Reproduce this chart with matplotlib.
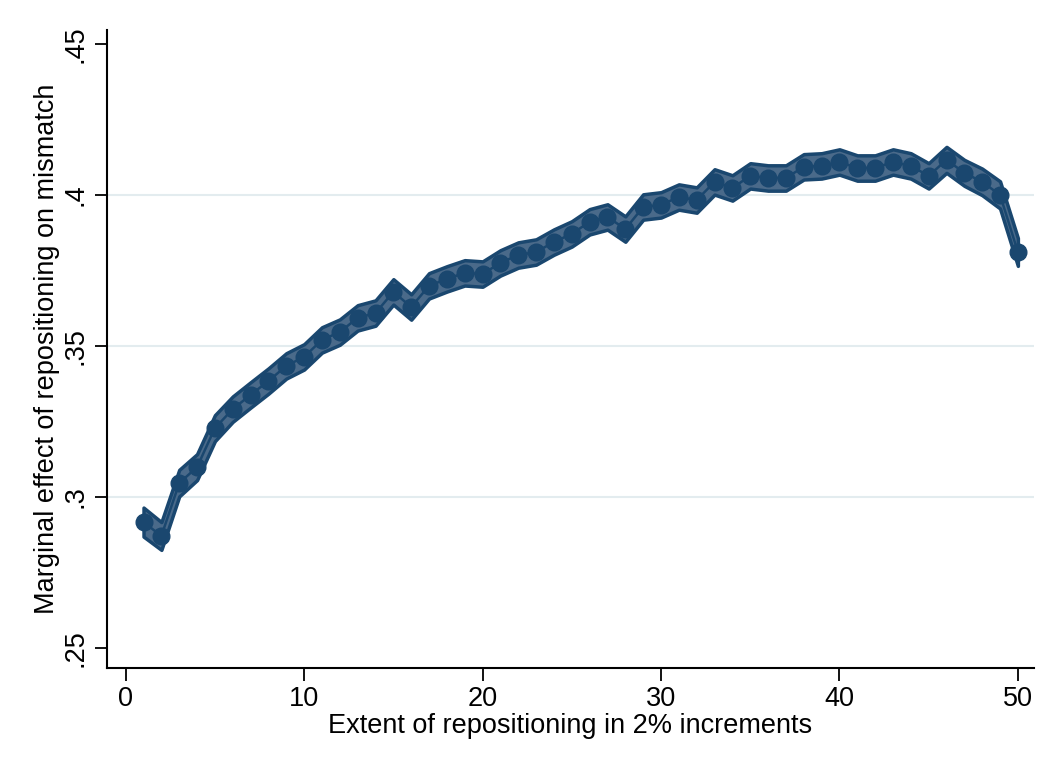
import numpy as np
import matplotlib
matplotlib.use("Agg")
import matplotlib.pyplot as plt

# repositioning extent (2% steps) and estimated marginal effects
extent = list(range(1, 51))
margin = [
    0.2917, 0.2871, 0.3046, 0.3099, 0.3228, 0.3291, 0.3338, 0.3384, 0.3434, 0.3464,
    0.3520, 0.3546, 0.3593, 0.3609, 0.3679, 0.3629, 0.3699, 0.3722, 0.3742, 0.3738,
    0.3775, 0.3801, 0.3811, 0.3844, 0.3871, 0.3911, 0.3927, 0.3887, 0.3960, 0.3967,
    0.3993, 0.3983, 0.4043, 0.4023, 0.4063, 0.4056, 0.4056, 0.4093, 0.4096, 0.4109,
    0.4089, 0.4089, 0.4109, 0.4096, 0.4063, 0.4116, 0.4073, 0.4043, 0.4000, 0.3811,
]
# half width of the 95% confidence interval
ci_half = [
    0.0048, 0.0046, 0.0044, 0.0043, 0.0043, 0.0042, 0.0042, 0.0042, 0.0042, 0.0042,
    0.0042, 0.0042, 0.0042, 0.0042, 0.0042, 0.0042, 0.0042, 0.0042, 0.0042, 0.0042,
    0.0042, 0.0042, 0.0042, 0.0042, 0.0042, 0.0042, 0.0042, 0.0042, 0.0042, 0.0042,
    0.0042, 0.0042, 0.0042, 0.0042, 0.0042, 0.0042, 0.0042, 0.0042, 0.0042, 0.0042,
    0.0042, 0.0042, 0.0042, 0.0042, 0.0042, 0.0043, 0.0043, 0.0044, 0.0045, 0.0046,
]
yticks = [0.25, 0.30, 0.35, 0.40, 0.45]
ytick_labels = [".25", ".3", ".35", ".4", ".45"]
xticks = [0, 10, 20, 30, 40, 50]

navy = "#1A476F"
band = "#4A6A8A"

plt.rcParams["font.family"] = ["Liberation Sans", "DejaVu Sans"]

fig = plt.figure(figsize=(10.61, 7.68), dpi=100)
ax = fig.add_axes([0.1008, 0.1302, 0.8737, 0.8308])

x = np.array(extent)
y = np.array(margin)
h = np.array(ci_half)

ax.fill_between(x, y - h, y + h, facecolor=band, edgecolor=navy,
                linewidth=2.5, zorder=2)
ax.plot(x, y, color=navy, linewidth=1.8, marker="o", markersize=12,
        markerfacecolor=navy, markeredgecolor=navy, zorder=3)

# light grid only on the interior y ticks
for g in yticks[1:-1]:
    ax.axhline(g, color="#E3ECEF", linewidth=1.5, zorder=1)

ax.set_xlim(-1.05, 50.9)
ax.set_ylim(0.2434, 0.4546)
ax.set_xticks(xticks)
ax.set_xticklabels([str(t) for t in xticks], fontsize=19.5)
ax.set_yticks(yticks)
ax.set_yticklabels(ytick_labels, fontsize=19.5, rotation=90, va="center")

ax.tick_params(axis="both", direction="out", length=9, width=1.3,
               color="black", pad=4)
for side in ("top", "right"):
    ax.spines[side].set_visible(False)
for side in ("left", "bottom"):
    ax.spines[side].set_linewidth(1.5)

ax.set_xlabel("Extent of repositioning in 2% increments", fontsize=19.5, labelpad=1)
ax.set_ylabel("Marginal effect of repositioning on mismatch", fontsize=19.5, labelpad=2)

fig.savefig("out.png", dpi=100, facecolor="white")
